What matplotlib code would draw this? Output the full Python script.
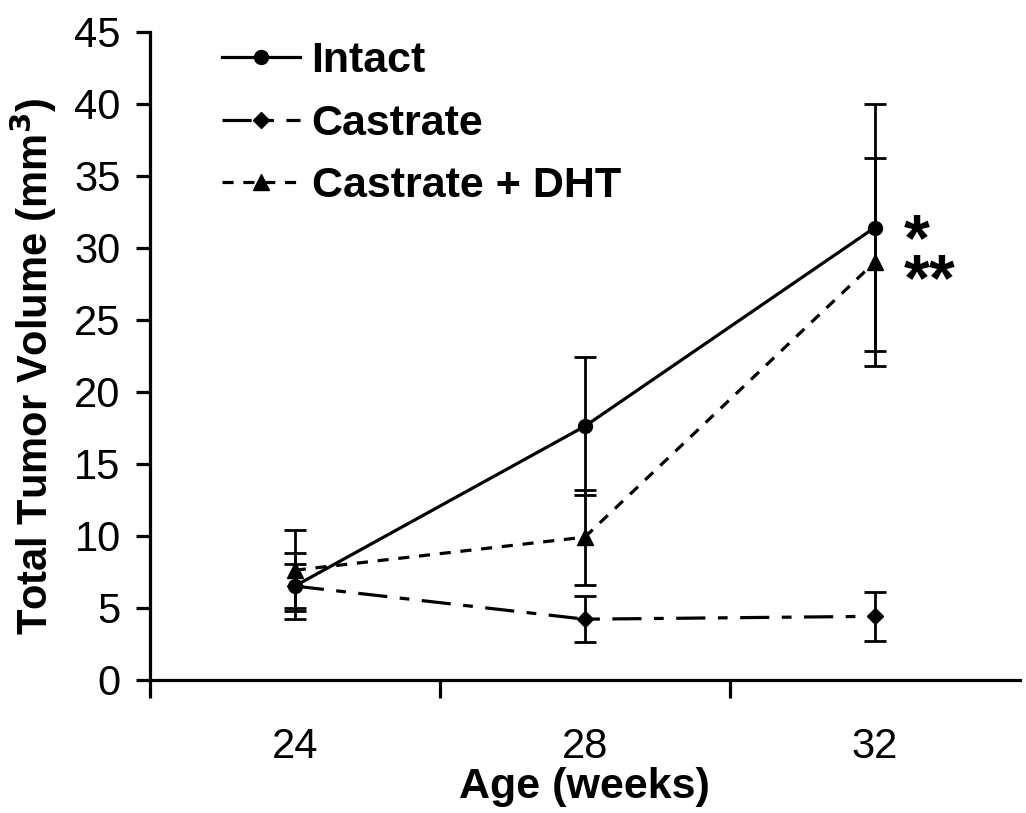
import matplotlib
matplotlib.use('Agg')
import numpy as np
import matplotlib.pyplot as plt

plt.rcParams['font.family'] = ['Liberation Sans', 'DejaVu Sans']
plt.rcParams['lines.scale_dashes'] = False

# data
ages = ['24', '28', '32']
intact = [6.5, 17.6, 31.4]
intact_err = [2.3, 4.8, 8.6]
castrate = [6.5, 4.2, 4.4]
castrate_err = [1.5, 1.6, 1.7]
dht = [7.6, 9.9, 29.0]
dht_err = [2.8, 3.3, 7.2]

x = np.arange(len(ages))

fig = plt.figure(figsize=(10.26, 8.13), dpi=100)
ax = fig.add_axes([0.146, 0.164, 0.848, 0.797])

series = [
    (intact, intact_err, 'Intact', 'o', 10, '-'),
    (castrate, castrate_err, 'Castrate', 'D', 8, (0, (21, 9, 7, 9))),
    (dht, dht_err, 'Castrate + DHT', '^', 11, (0, (8, 7))),
]
for vals, errs, lab, mk, ms, ls in series:
    ax.errorbar(x, vals, yerr=errs, fmt='none', ecolor='black',
                elinewidth=2, capsize=8, capthick=2, zorder=2)
    ax.plot(x, vals, color='black', linestyle=ls, linewidth=2.3,
            marker=mk, markersize=ms, label=lab, zorder=3)

# significance marks
ax.text(2.1, 32.5, '*\n**', fontsize=48, fontweight='bold',
        va='top', ha='left', linespacing=0.55)

ax.set_xlim(-0.5, 2.5)
ax.set_ylim(0, 45)
ax.set_yticks(np.arange(0, 46, 5))
ax.set_xticks(x)
ax.set_xticklabels(ages)
ax.set_xticks([-0.5, 0.5, 1.5], minor=True)
ax.tick_params(axis='x', which='major', length=0, pad=34, labelsize=30)
ax.tick_params(axis='x', which='minor', length=13, width=2.3, direction='out')
ax.tick_params(axis='y', length=10, width=2.3, direction='out', labelsize=30, pad=11)

for s in ['top', 'right']:
    ax.spines[s].set_visible(False)
for s in ['left', 'bottom']:
    ax.spines[s].set_linewidth(2.3)

ax.set_xlabel('Age (weeks)', fontsize=31, fontweight='bold', labelpad=0)
ax.set_ylabel('Total Tumor Volume (mm$^\\mathbf{3}$)', fontsize=30, fontweight='bold')
ax.yaxis.set_label_coords(-0.104, 0.483)

ax.legend(loc='upper left', bbox_to_anchor=(0.083, 0.986), frameon=False,
          prop={'weight': 'bold', 'size': 31}, handlelength=1.8,
          handletextpad=0.28, labelspacing=0.53, borderpad=0, borderaxespad=0)

plt.savefig('out.png', dpi=100)
